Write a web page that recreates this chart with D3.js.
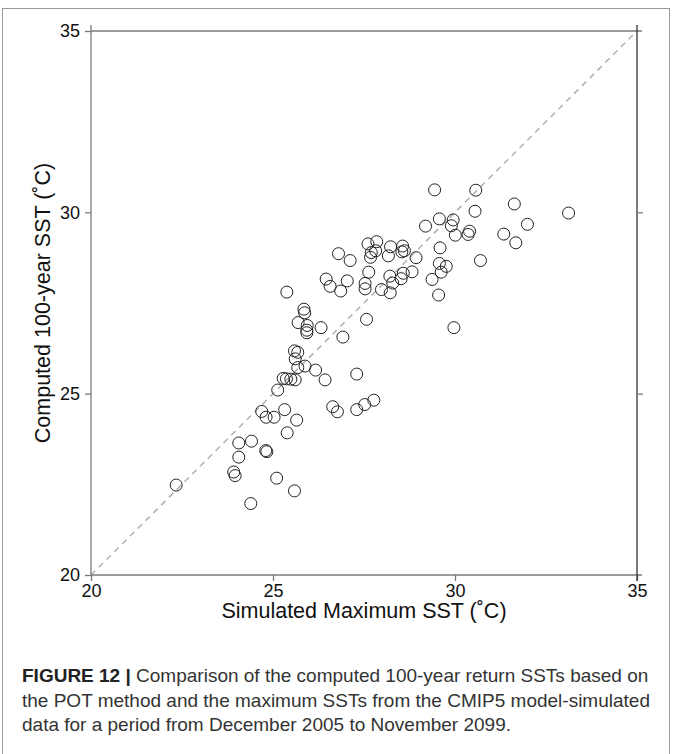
<!DOCTYPE html>
<html>
<head>
<meta charset="utf-8">
<script src="https://cdn.jsdelivr.net/npm/d3@7"></script>
<style>
  html, body { margin: 0; padding: 0; background: #fff; }
  svg { display: block; font-family: "Liberation Sans", Arial, sans-serif; }
</style>
</head>
<body>
<svg id="fig" width="673" height="754"></svg>
<script>
// Simulated maximum SST (°C) from CMIP5 runs
const simulatedMax = [
  22.34, 24.06, 24.41, 24.06, 24.80, 24.83, 25.39, 23.92, 23.96, 25.10, 25.59, 24.39,
  25.38, 25.85, 25.87, 25.69, 25.94, 25.93, 25.93, 26.32, 27.57, 26.92, 25.59, 25.68,
  25.61, 25.68, 25.88, 26.17, 26.43, 25.28, 25.37, 25.49, 25.61, 25.13, 27.30, 24.69,
  24.81, 25.03, 25.32, 25.65, 26.64, 26.77, 27.30, 27.52, 27.77,
  29.44, 29.57, 29.19, 29.95, 29.90, 30.01, 29.59, 29.57, 29.76, 29.62, 29.37, 29.55,
  29.97, 27.61, 27.85, 27.82, 27.70, 27.68, 28.23, 28.17, 28.56, 28.54, 28.61, 28.93,
  26.80, 27.12, 27.63, 26.46, 26.57, 27.04, 26.86, 27.53, 27.53, 28.21, 28.29, 28.52,
  28.58, 28.82, 27.98, 28.22,
  30.57, 31.63, 33.12, 30.55, 30.36, 30.40, 31.34, 31.99, 31.67, 30.70
];
// Computed 100-year return SST (°C), POT method
const computedReturn = [
  22.48, 23.64, 23.69, 23.25, 23.43, 23.40, 23.92, 22.84, 22.74, 22.67, 22.32, 21.97,
  27.80, 27.33, 27.23, 26.96, 26.88, 26.75, 26.68, 26.82, 27.05, 26.56, 26.18, 26.14,
  25.96, 25.72, 25.76, 25.65, 25.38, 25.42, 25.41, 25.40, 25.38, 25.10, 25.54, 24.51,
  24.35, 24.35, 24.56, 24.27, 24.64, 24.50, 24.56, 24.70, 24.82,
  30.62, 29.82, 29.62, 29.79, 29.63, 29.37, 29.02, 28.59, 28.51, 28.35, 28.15, 27.72,
  26.82, 29.13, 29.19, 28.94, 28.89, 28.76, 29.05, 28.80, 29.07, 28.91, 28.94, 28.75,
  28.86, 28.67, 28.35, 28.16, 27.96, 28.11, 27.83, 28.04, 27.89, 28.24, 28.05, 28.17,
  28.32, 28.36, 27.87, 27.78,
  30.61, 30.23, 29.98, 30.03, 29.39, 29.48, 29.40, 29.67, 29.16, 28.67
];
const axisDomain = [20, 35];
const tickValues = [20, 25, 30, 35];
const xLabel = "Simulated Maximum SST (˚C)";
const yLabel = "Computed 100-year SST (˚C)";
const captionLines = [
  ["FIGURE 12 | ", "Comparison of the computed 100-year return SSTs based on"],
  ["", "the POT method and the maximum SSTs from the CMIP5 model-simulated"],
  ["", "data for a period from December 2005 to November 2099."]
];

const svg = d3.select("#fig");

// outer figure frame
svg.append("rect")
  .attr("x", 2.5).attr("y", 8.5).attr("width", 667).attr("height", 750)
  .attr("fill", "none").attr("stroke", "#9a9a9a").attr("stroke-width", 1);

const x = d3.scaleLinear().domain(axisDomain).range([91, 637]);
const y = d3.scaleLinear().domain(axisDomain).range([575, 31]);

const axisColor = "#7a7a7a";
const tickLen = 6;

// 1:1 reference line
svg.append("line")
  .attr("x1", x(axisDomain[0])).attr("y1", y(axisDomain[0]))
  .attr("x2", x(axisDomain[1])).attr("y2", y(axisDomain[1]))
  .attr("stroke", "#b0b0b0").attr("stroke-width", 1.5)
  .attr("stroke-dasharray", "6,5");

// bottom axis
const gx = svg.append("g").attr("transform", `translate(0,${y(20)})`)
  .call(d3.axisBottom(x).tickValues(tickValues).tickSize(tickLen).tickPadding(3).tickFormat(d3.format("d")));
// left axis
const gy = svg.append("g").attr("transform", `translate(${x(20)},0)`)
  .call(d3.axisLeft(y).tickValues(tickValues).tickSize(tickLen).tickPadding(5).tickFormat(d3.format("d")));
[gx, gy].forEach(g => {
  g.attr("font-size", null);
  g.select(".domain").attr("stroke", axisColor).attr("stroke-width", 1.3);
  g.selectAll(".tick line").attr("stroke", axisColor).attr("stroke-width", 1.3);
  g.selectAll(".tick text").attr("fill", "#111").style("font-size", "18px")
    .style("font-family", "'Liberation Sans', Arial, sans-serif");
});
gx.select(".domain").attr("d", `M${x(20)},0H${x(35) + 5}`);
gy.select(".domain").attr("d", `M0,${y(35) - 6}V${y(20)}`);

// top axis line
svg.append("line")
  .attr("x1", x(20)).attr("x2", x(35) + 5)
  .attr("y1", y(35)).attr("y2", y(35))
  .attr("stroke", axisColor).attr("stroke-width", 1.3);

// right axis with outward ticks
const gr = svg.append("g").attr("transform", `translate(${x(35)},0)`)
  .call(d3.axisRight(y).tickValues([25, 30]).tickSize(tickLen).tickFormat(""));
gr.select(".domain").attr("d", `M0,${y(35) - 6}V${y(20) + tickLen}`)
  .attr("stroke", "#333").attr("stroke-width", 1.3);
gr.selectAll(".tick line").attr("stroke", axisColor).attr("stroke-width", 1.3);

// scatter points
svg.append("g")
  .selectAll("circle")
  .data(simulatedMax.map((v, i) => [v, computedReturn[i]]))
  .join("circle")
  .attr("cx", d => x(d[0]))
  .attr("cy", d => y(d[1]))
  .attr("r", 6)
  .attr("fill", "none")
  .attr("stroke", "#222")
  .attr("stroke-width", 1);

// axis titles
svg.append("text")
  .attr("x", (x(20) + x(35)) / 2).attr("y", 618)
  .attr("text-anchor", "middle").attr("fill", "#111")
  .style("font-size", "21.5px").text(xLabel);
svg.append("text")
  .attr("transform", `translate(50,${(y(20) + y(35)) / 2}) rotate(-90)`)
  .attr("text-anchor", "middle").attr("fill", "#111")
  .style("font-size", "21.5px").text(yLabel);

// caption
const cap = svg.append("g").style("font-size", "19px").attr("fill", "#333");
captionLines.forEach((ln, i) => {
  const t = cap.append("text").attr("x", 22).attr("y", 682 + i * 24.5);
  if (ln[0]) t.append("tspan").attr("font-weight", "bold").attr("fill", "#222").text(ln[0]);
  t.append("tspan").text(ln[1]);
});
</script>
</body>
</html>
